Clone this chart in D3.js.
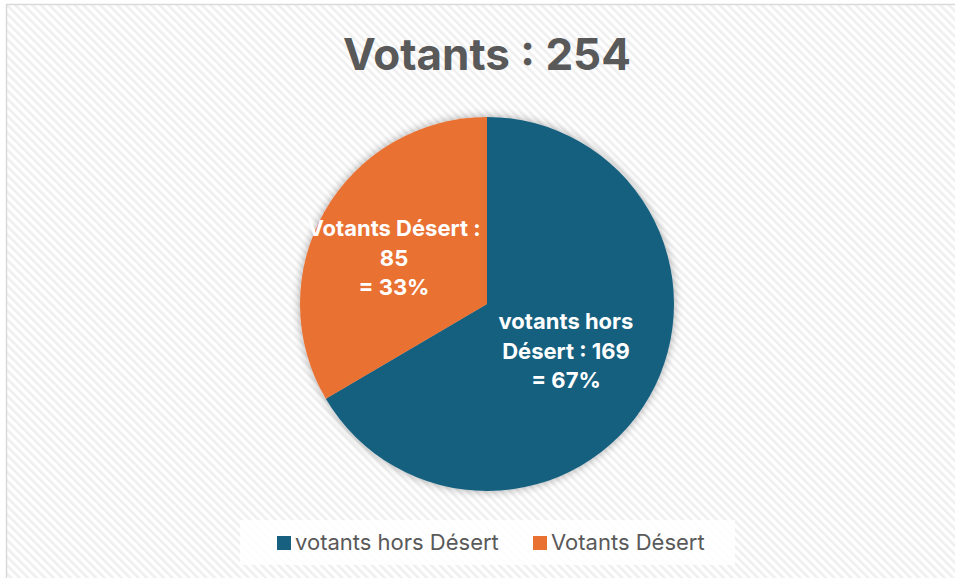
<!DOCTYPE html>
<html>
<head>
<meta charset="utf-8">
<script src="https://cdn.jsdelivr.net/npm/d3@7"></script>
<style>
  body { margin: 0; background: #ffffff; }
  svg { display: block; }
</style>
</head>
<body>
<div id="chart"></div>
<script>
// Chart data
var categories = ["votants hors Désert", "Votants Désert"];
var values = [169, 85];
var sliceColors = ["#17607f", "#e97132"];
var labelLines = [
  ["votants hors", "Désert : 169", "= 67%"],
  ["Votants Désert :", "85", "= 33%"]
];
var titleText = "Votants : 254";

var svgWidth = 955;
var svgHeight = 578;
var fontFamily = "Inter, 'Open Sans', sans-serif";

var svg = d3.select("#chart")
  .append("svg")
  .attr("width", svgWidth)
  .attr("height", svgHeight);

var defs = svg.append("defs");

// Diagonal hatch background
var pattern = defs.append("pattern")
  .attr("id", "hatch")
  .attr("patternUnits", "userSpaceOnUse")
  .attr("width", 6)
  .attr("height", 6)
  .attr("patternTransform", "rotate(-45)");
pattern.append("rect").attr("width", 6).attr("height", 6).attr("fill", "#ffffff");
pattern.append("rect").attr("width", 2.6).attr("height", 6).attr("fill", "#efefef");

// Soft shadow round the pie
var shadow = defs.append("filter")
  .attr("id", "shadow")
  .attr("x", "-20%").attr("y", "-20%")
  .attr("width", "140%").attr("height", "140%");
shadow.append("feGaussianBlur").attr("in", "SourceAlpha").attr("stdDeviation", 5);
shadow.append("feOffset").attr("dx", 0).attr("dy", 0).attr("result", "blur");
shadow.append("feComponentTransfer")
  .append("feFuncA").attr("type", "linear").attr("slope", 0.35);
var merge = shadow.append("feMerge");
merge.append("feMergeNode");
merge.append("feMergeNode").attr("in", "SourceGraphic");

// Frame (right and bottom edges run past the window)
svg.append("rect")
  .attr("x", 6.5)
  .attr("y", 4.5)
  .attr("width", 970)
  .attr("height", 600)
  .attr("fill", "url(#hatch)")
  .attr("stroke", "#d9d9d9")
  .attr("stroke-width", 1.5);

// Title
svg.append("text")
  .attr("x", 487)
  .attr("y", 70)
  .attr("text-anchor", "middle")
  .attr("font-family", fontFamily)
  .attr("font-weight", "bold")
  .attr("font-size", 44)
  .attr("fill", "#595959")
  .text(titleText);

// Pie
var cx = 487, cy = 304, radius = 187;
var pie = d3.pie().sort(null).value(d => d);
var arc = d3.arc().innerRadius(0).outerRadius(radius);

var pieGroup = svg.append("g")
  .attr("transform", `translate(${cx}, ${cy})`);

pieGroup.append("g")
  .attr("filter", "url(#shadow)")
  .selectAll("path")
  .data(pie(values))
  .enter()
  .append("path")
  .attr("d", arc)
  .attr("fill", (d, i) => sliceColors[i]);

// Data labels
var labelPos = [[79, 17], [-93, -76]];
var labelGroups = pieGroup.selectAll(".label")
  .data(labelLines)
  .enter()
  .append("text")
  .attr("class", "label")
  .attr("text-anchor", "middle")
  .attr("font-family", fontFamily)
  .attr("font-weight", "bold")
  .attr("font-size", 22)
  .attr("fill", "#ffffff");

labelGroups.each(function(lines, i) {
  var t = d3.select(this);
  lines.forEach((line, j) => {
    t.append("tspan")
      .attr("x", labelPos[i][0])
      .attr("y", labelPos[i][1] + j * 29.5 + 8)
      .text(line);
  });
});

// Legend
var legend = svg.append("g");
legend.append("rect")
  .attr("x", 240)
  .attr("y", 520)
  .attr("width", 495)
  .attr("height", 45)
  .attr("fill", "#ffffff")
  .attr("opacity", 0.85);

var legendX = [277, 533];
var items = legend.selectAll(".item")
  .data(categories)
  .enter()
  .append("g")
  .attr("class", "item")
  .attr("transform", (d, i) => `translate(${legendX[i]}, 536)`);

items.append("rect")
  .attr("width", 14)
  .attr("height", 14)
  .attr("fill", (d, i) => sliceColors[i]);

items.append("text")
  .attr("x", 18)
  .attr("y", 14)
  .attr("font-family", fontFamily)
  .attr("font-size", 22)
  .attr("fill", "#595959")
  .text(d => d);
</script>
</body>
</html>
